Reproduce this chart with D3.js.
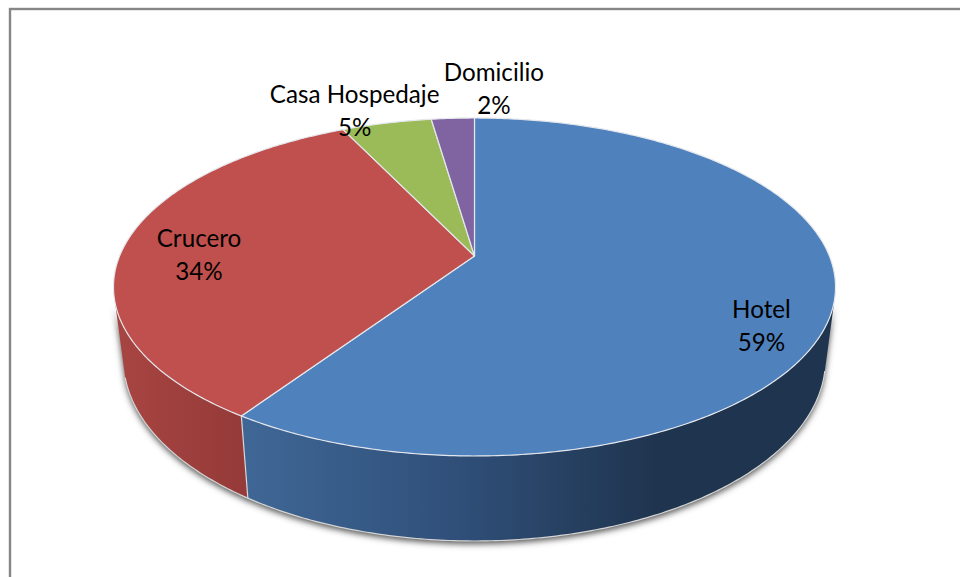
<!DOCTYPE html>
<html>
<head>
	<title>Pie</title>
	<style type="text/css">
		html, body { margin: 0; padding: 0; background: #fff; }
		svg { display: block; }
		text { font-family: Lato, "Noto Sans", sans-serif; font-size: 24.2px; fill: #000; text-anchor: middle; }
	</style>
</head>
<body>
	<div id="chart"></div>
	<script src="https://d3js.org/d3.v7.min.js"></script>
	<script type="text/javascript">
		var categories = ['Hotel', 'Crucero', 'Casa Hospedaje', 'Domicilio'];
		var values = [59.4, 33.5, 4.8, 2.3];
		var topColors = ['#4f81bd', '#c0504d', '#9bbb59', '#8064a2'];

		var width = 960, height = 577;

		// excel's perspective: the apex is not at the ellipse centre
		var k = 0.1834;
		var topDisc = { cx: 474.5, y0: 256, a: 354.9, b: 163.3 };
		var botDisc = { cx: 474.5, y0: 326.8, a: 345, b: 174.9 };
		// where the wall silhouette meets the top rim (clockwise from 12 o'clock)
		var wallStart = 104 * Math.PI / 180, wallEnd = 254 * Math.PI / 180;

		function project(disc, t) {
			var u = Math.sin(t), v = -Math.cos(t), w = 1 - k * v;
			return [disc.cx + disc.a * u / w, disc.y0 + disc.b * v / w];
		}

		function rim(disc, t0, t1) {
			var n = Math.max(2, Math.ceil(Math.abs(t1 - t0) * 90));
			return d3.range(n + 1).map(function(i) { return project(disc, t0 + (t1 - t0) * i / n); });
		}

		var line = d3.line();
		var arcs = d3.pie().sort(null).startAngle(0).endAngle(2 * Math.PI)(values);

		var svg = d3.select('#chart').append('svg').attr('width', width).attr('height', height);
		var defs = svg.append('defs');

		defs.append('filter').attr('id', 'blur')
			.attr('x', '-5%').attr('y', '-5%').attr('width', '110%').attr('height', '110%')
			.append('feGaussianBlur').attr('stdDeviation', 3);

		var blueSide = defs.append('linearGradient').attr('id', 'side0')
			.attr('gradientUnits', 'userSpaceOnUse').attr('x1', 243).attr('x2', 660).attr('y1', 0).attr('y2', 0);
		blueSide.append('stop').attr('offset', 0).attr('stop-color', '#3f6796');
		blueSide.append('stop').attr('offset', 0.5).attr('stop-color', '#30507a');
		blueSide.append('stop').attr('offset', 1).attr('stop-color', '#1f344e');

		var redSide = defs.append('linearGradient').attr('id', 'side1')
			.attr('gradientUnits', 'userSpaceOnUse').attr('x1', 115).attr('x2', 248).attr('y1', 0).attr('y2', 0);
		redSide.append('stop').attr('offset', 0).attr('stop-color', '#a84542');
		redSide.append('stop').attr('offset', 1).attr('stop-color', '#943a38');

		// border, only top and left show in the crop
		svg.append('rect').attr('x', 10).attr('y', 9).attr('width', 1000).attr('height', 1000)
			.attr('fill', 'none').attr('stroke', '#868686').attr('stroke-width', 2.4);

		// soft shadow under the wall
		svg.append('path')
			.attr('d', line(rim(botDisc, wallStart, wallEnd).concat(rim(topDisc, wallEnd, wallStart))) + 'Z')
			.attr('transform', 'translate(0,3)')
			.attr('fill', '#555').attr('filter', 'url(#blur)');

		// walls
		var walls = [
			{ t0: wallStart, t1: arcs[0].endAngle, i: 0 },
			{ t0: arcs[1].startAngle, t1: wallEnd, i: 1 }
		];
		svg.selectAll('path.wall').data(walls).enter().append('path')
			.attr('class', 'wall')
			.attr('d', function(d) { return line(rim(topDisc, d.t0, d.t1).concat(rim(botDisc, d.t1, d.t0))) + 'Z'; })
			.attr('fill', function(d) { return 'url(#side' + d.i + ')'; })
			.attr('stroke', 'none');

		// light edge on the wall
		svg.append('path').attr('d', line(rim(botDisc, wallStart, wallEnd)))
			.attr('fill', 'none').attr('stroke', '#d4d4d4').attr('stroke-width', 1.2);
		svg.append('path').attr('d', line([project(topDisc, arcs[0].endAngle), project(botDisc, arcs[0].endAngle)]))
			.attr('stroke', '#d9d9d9').attr('stroke-width', 1.2);

		// top face
		svg.selectAll('path.slice').data(arcs).enter().append('path')
			.attr('class', 'slice')
			.attr('d', function(d) {
				return line([[topDisc.cx, topDisc.y0]].concat(rim(topDisc, d.startAngle, d.endAngle))) + 'Z';
			})
			.attr('fill', function(d, i) { return topColors[i]; })
			.attr('stroke', '#e4e7ec').attr('stroke-width', 1.2).attr('stroke-linejoin', 'round');

		// labels, Excel best-fit positions relative to the slice mid angle
		var labelNudge = [[0, 30], [11, 9], [-32, -12], [41, -29]];
		var labelRadius = [0.8, 0.82, 1.0, 1.0];
		var labels = svg.selectAll('g.label').data(arcs).enter().append('g')
			.attr('class', 'label')
			.attr('transform', function(d, i) {
				var mid = (d.startAngle + d.endAngle) / 2;
				var p = project({ cx: topDisc.cx, y0: topDisc.y0, a: topDisc.a * labelRadius[i], b: topDisc.b * labelRadius[i] }, mid);
				return 'translate(' + (p[0] + labelNudge[i][0]) + ',' + (p[1] + labelNudge[i][1]) + ')';
			});
		labels.append('text').attr('y', -8).text(function(d, i) { return categories[i]; });
		labels.append('text').attr('y', 25).text(function(d) { return Math.round(d.value) + '%'; });
	</script>
</body>
</html>
